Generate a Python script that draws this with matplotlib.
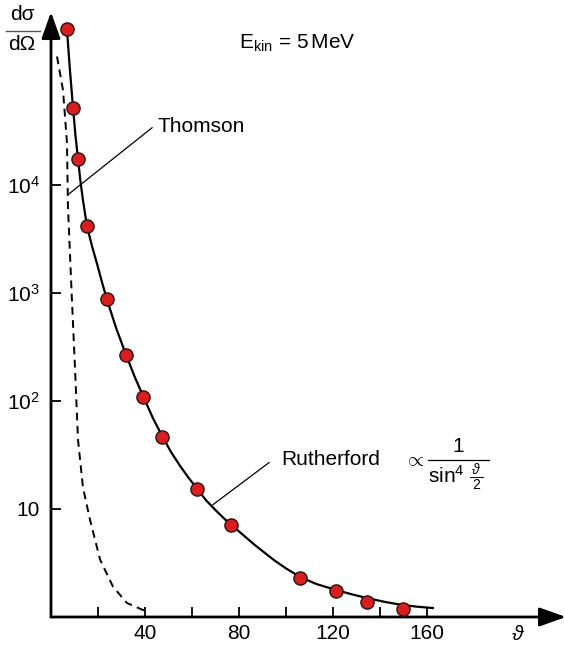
import numpy as np
import matplotlib
matplotlib.use('Agg')
import matplotlib.pyplot as plt
from matplotlib.lines import Line2D

plt.rcParams['font.family'] = ['Liberation Sans', 'DejaVu Sans']
plt.rcParams['mathtext.fontset'] = 'custom'
plt.rcParams['mathtext.rm'] = 'Liberation Sans'
plt.rcParams['mathtext.it'] = 'Liberation Sans:italic'
plt.rcParams['mathtext.bf'] = 'Liberation Sans:bold'

# ---- data ----
# measured points (angle in degrees, log10 of cross section)
meas_theta = [6.8, 9.4, 11.5, 15.3, 23.8, 31.9, 39.1, 47.2, 62.1, 76.6, 106.0, 121.3, 134.5, 149.8]
meas_logy = [5.44, 4.71, 4.24, 3.62, 2.94, 2.43, 2.04, 1.67, 1.185, 0.85, 0.36, 0.24, 0.14, 0.074]

# Rutherford curve (solid)
ruth_theta = [6.8, 8.0, 9.4, 10.4, 11.5, 12.5, 13.6, 15.3, 17.5, 19.6, 21.7, 23.8, 27.8, 31.9,
              35.5, 39.1, 43.4, 47.2, 51.0, 54.9, 58.5, 62.1, 66.0, 70.0, 74.0, 78.0, 82.0,
              86.0, 90.0, 95.0, 100.0, 106.0, 113.0, 121.3, 128.0, 134.5, 142.0, 149.8, 156.0, 162.5]
ruth_logy = [5.44, 5.08, 4.71, 4.46, 4.24, 4.04, 3.86, 3.62, 3.43, 3.27, 3.10, 2.94, 2.67, 2.43,
             2.23, 2.05, 1.84, 1.68, 1.53, 1.40, 1.29, 1.19, 1.08, 0.99, 0.905, 0.83, 0.755,
             0.68, 0.61, 0.525, 0.45, 0.37, 0.305, 0.25, 0.21, 0.175, 0.14, 0.11, 0.095, 0.083]

# Thomson curve (dashed)
thom_theta = [2.55, 5.1, 6.8, 7.2, 8.9, 10.2, 11.5, 13.6, 16.6, 20.9, 26.4, 32.3, 39.1, 40.9]
thom_logy = [5.19, 4.88, 4.39, 3.81, 2.94, 2.31, 1.64, 1.20, 0.90, 0.53, 0.28, 0.13, 0.065, 0.056]

xtick_major = [40, 80, 120, 160]
xtick_minor = [20, 60, 100, 140]
ytick_vals = [10, 100, 1000, 10000]
ytick_labels = ['10', r'10$^2$', r'10$^3$', r'10$^4$']

# ---- layout ----
W, H = 564, 646
FS = 15
fig = plt.figure(figsize=(W / 100, H / 100), dpi=100)
ox, oy = 51, 617      # origin pixel
ex, ey = 566, 12      # arrow tips
ax = fig.add_axes([ox / W, 1 - oy / H, (ex - ox) / W, (oy - ey) / H])
ax.set_yscale('log')
ax.set_xlim(0, (ex - ox) / 2.35)
ax.set_ylim(1, 10 ** ((oy - ey) / 108.0))

def P(x, y):
    return (x / W, 1 - y / H)

for s in ax.spines.values():
    s.set_visible(False)

# axes with arrows
for tip in [(1, 0), (0, 1)]:
    ax.annotate('', xy=tip, xytext=(0, 0), xycoords='axes fraction',
                arrowprops=dict(arrowstyle='-|>,head_length=0.9,head_width=0.32', lw=2.0,
                                color='black', shrinkA=0, shrinkB=0, mutation_scale=18),
                annotation_clip=False)

# ticks
ax.set_xticks(xtick_major)
ax.set_xticklabels([str(v) for v in xtick_major])
ax.set_xticks(xtick_minor, minor=True)
ax.set_yticks(ytick_vals)
ax.set_yticklabels(ytick_labels)
ax.yaxis.set_minor_locator(matplotlib.ticker.NullLocator())
ax.tick_params(axis='x', which='both', direction='in', length=7, width=1.3, labelsize=FS, pad=5)
ax.tick_params(axis='y', which='major', direction='in', length=7, width=1.3, labelsize=FS, pad=8)

# curves
ax.plot(thom_theta, np.power(10.0, thom_logy), color='black', lw=1.4, ls=(0, (4.0, 2.8)))
ax.plot(ruth_theta, np.power(10.0, ruth_logy), color='black', lw=1.6)
ax.plot(meas_theta, np.power(10.0, meas_logy), ls='none', marker='o', ms=9.5,
        mfc='#e01b1b', mec='#1a1a1a', mew=1.0, zorder=5)

# leaders and labels
ax.plot([7.2, 43.0], [10 ** 3.91, 10 ** 4.53], color='black', lw=0.9)
ax.text(45.5, 10 ** 4.545, 'Thomson', fontsize=FS, ha='left', va='center')
ax.plot([68.9, 92.8], [10 ** 1.04, 10 ** 1.43], color='black', lw=0.9)
ax.text(97.9, 10 ** 1.46, 'Rutherford', fontsize=FS, ha='left', va='center')

# formula
fig.text(*P(414, 460), r'$\propto$', fontsize=15, ha='center', va='center')
fig.text(*P(458, 446), '1', fontsize=FS, ha='center', va='center')
fig.add_artist(Line2D([428 / W, 489 / W], [1 - 460 / H, 1 - 460 / H], color='black', lw=0.9))
fig.text(*P(428, 476), r'sin$^4$', fontsize=FS, ha='left', va='center')
fig.text(*P(476, 470), r'$\vartheta$', fontsize=10, ha='center', va='center',
         family=['DejaVu Serif'])
fig.add_artist(Line2D([470 / W, 483 / W], [1 - 477 / H, 1 - 477 / H], color='black', lw=0.7))
fig.text(*P(476, 485), '2', fontsize=10, ha='center', va='center')

# energy label
ax.text(104.7, 10 ** 5.31, r'E$_{\rm kin}$ = 5$\,$MeV', fontsize=FS, ha='center', va='center')

# y-axis quantity
fig.text(*P(22, 15), 'd\u03c3', fontsize=FS, ha='center', va='center')
fig.add_artist(Line2D([6 / W, 40 / W], [1 - 31 / H, 1 - 31 / H], color='#555555', lw=1.0))
fig.text(*P(22, 44), 'd\u03a9', fontsize=FS, ha='center', va='center')

# x-axis quantity
fig.text(*P(518, 634), r'$\vartheta$', fontsize=FS, ha='center', va='center',
         family=['DejaVu Serif'])

fig.savefig('out.png', dpi=100)
